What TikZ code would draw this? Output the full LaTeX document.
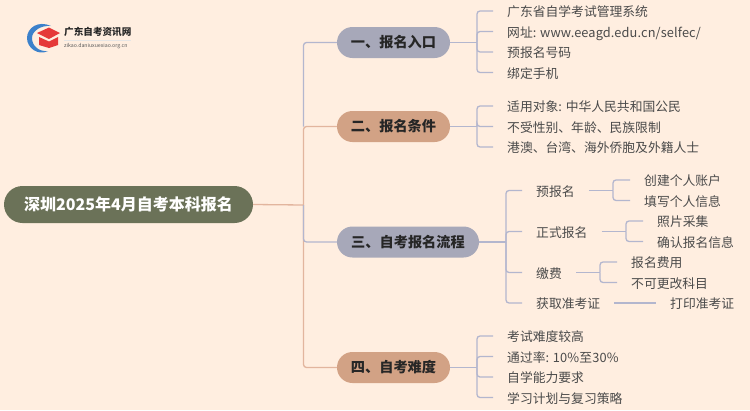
\documentclass[tikz,border=0pt]{standalone}
\usepackage{fontspec}
\setmainfont{Noto Sans CJK SC}
\definecolor{bg}{HTML}{FFEEE0}
\definecolor{rootc}{HTML}{6B7258}
\definecolor{bluec}{HTML}{A7A8B9}
\definecolor{orangec}{HTML}{D2A285}
\definecolor{lineb}{HTML}{B3B6CE}
\definecolor{lineo}{HTML}{E2B59E}
\definecolor{txt}{HTML}{4A4A4A}
\tikzset{
  x=1pt,y=-1pt,
  rootnode/.style={fill=rootc,text=white,rounded corners=18.5pt,minimum width=249pt,minimum height=37pt,inner sep=0pt,font=\fontsize{16}{18}\selectfont\bfseries},
  branch/.style={rounded corners=15.5pt,minimum height=31pt,inner sep=0pt,text=black!85,font=\fontsize{14.2}{16}\selectfont\bfseries},
  leaf/.style={anchor=west,inner xsep=14pt,inner ysep=0pt,text height=11.6pt,text depth=0pt,text=txt,font=\fontsize{12.8}{14}\selectfont},
  conb/.style={draw=lineb,line width=1.3pt,rounded corners=3pt},
  cono/.style={draw=lineo,line width=1.3pt,rounded corners=3pt},
}
\begin{document}
\begin{tikzpicture}
\useasboundingbox[fill=bg] (0,0) rectangle (750,410);
% logo
\fill[fill=white!30!cyan!60!blue] (51,26) .. controls (38,20) and (27,28) .. (27,38) .. controls (27,48) and (38,56) .. (48,51) .. controls (39,52) and (32,46) .. (32,38) .. controls (32,31) and (41,25) .. (51,26) -- cycle;
\fill[red!75!white!90!black] (37,33) -- (49,27.5) -- (60,33) -- (49,39) -- cycle;
\fill[red!75!white!90!black] (39,37) -- (49,41.5) -- (58,37) -- (58,45) -- (49,48) -- (39,45) -- cycle;
\node[anchor=west,inner sep=0pt,text=black!85,font=\fontsize{9.6}{11}\selectfont\bfseries] (logot) at (64,31.5) {广东自考资讯网};
\node[anchor=west,inner sep=0pt,text=black!65,font=\fontsize{5.2}{6}\selectfont] (logou) at (64,46) {zikao.daniuxuexiao.org.cn};
\draw[black!10,line width=0.5pt] (logot.west |- 0,40.5) -- (131,40.5);
% root and branches
\node[rootnode] (root) at (128.5,204.5) {深圳2025年4月自考本科报名};
\node[branch,fill=bluec,minimum width=113pt] (b1) at (393.5,42.5) {一、报名入口};
\node[branch,fill=orangec,minimum width=113pt] (b2) at (393.5,126.5) {二、报名条件};
\node[branch,fill=bluec,minimum width=142pt] (b3) at (408,242) {三、自考报名流程};
\node[branch,fill=orangec,minimum width=113pt] (b4) at (393.5,367.5) {四、自考难度};
\coordinate (t) at (303.5,205);
\coordinate (j1) at (477,42.5);
\coordinate (j2) at (477,126.5);
\coordinate (j3) at (506,242);
\coordinate (j4) at (477,367.5);
% leaves group 1
\node[leaf] (a1) at (493,11) {广东省自学考试管理系统};
\node[leaf] (a2) at (493,31.5) {网址: \addfontfeature{LetterSpace=0.9}www.eeagd.edu.cn/selfec/};
\node[leaf] (a3) at (493,52) {预报名号码};
\node[leaf] (a4) at (493,72.5) {绑定手机};
% group 2
\node[leaf] (c1) at (493,106) {适用对象: 中华人民共和国公民};
\node[leaf] (c2) at (493,126.5) {不受性别、年龄、民族限制};
\node[leaf] (c3) at (493,147) {港澳、台湾、海外侨胞及外籍人士};
% group 3
\node[leaf] (p1) at (522,190.5) {预报名};
\node[leaf] (p2) at (522,231.5) {正式报名};
\node[leaf] (p3) at (522,272.5) {缴费};
\node[leaf] (p4) at (522,303) {获取准考证};
\coordinate (k1) at (613,190.5);
\coordinate (k2) at (626,231.5);
\coordinate (k3) at (600,272.5);
\node[leaf] (q1) at (630,180) {创建个人账户};
\node[leaf] (q2) at (630,200.5) {填写个人信息};
\node[leaf] (q3) at (643,221) {照片采集};
\node[leaf] (q4) at (643,241.5) {确认报名信息};
\node[leaf] (q5) at (617,262) {报名费用};
\node[leaf] (q6) at (617,282.5) {不可更改科目};
\node[leaf] (q7) at (656,303) {打印准考证};
% group 4
\node[leaf] (d1) at (493,336) {考试难度较高};
\node[leaf] (d2) at (493,356.5) {通过率: \addfontfeature{LetterSpace=1}10\%至30\%};
\node[leaf] (d3) at (493,377) {自学能力要求};
\node[leaf] (d4) at (493,397.5) {学习计划与复习策略};
% connectors: trunk
\draw[cono] (root.east) -- (t);
\draw[cono] (t) |- (b4.west);
\draw[conb] (t) |- (b3.west);
\draw[cono] (t) |- (b2.west);
\draw[conb] (t |- b2.west) |- (b1.west);
% connectors: groups
\draw[conb] (b1.east) -- (j1);
\foreach \n in {a1,a2,a3,a4} \draw[conb] (j1) |- (\n.west);
\draw[conb] (b2.east) -- (j2);
\foreach \n in {c1,c2,c3} \draw[conb] (j2) |- (\n.west);
\draw[conb] (b3.east) -- (j3);
\foreach \n in {p1,p2,p3,p4} \draw[conb] (j3) |- (\n.west);
\draw[conb] (b4.east) -- (j4);
\foreach \n in {d1,d2,d3,d4} \draw[conb] (j4) |- (\n.west);
% sub-branches
\draw[conb] (p1.east) -- (k1);
\draw[conb] (k1) |- (q1.west);
\draw[conb] (k1) |- (q2.west);
\draw[conb] (p2.east) -- (k2);
\draw[conb] (k2) |- (q3.west);
\draw[conb] (k2) |- (q4.west);
\draw[conb] (p3.east) -- (k3);
\draw[conb] (k3) |- (q5.west);
\draw[conb] (k3) |- (q6.west);
\draw[conb] (p4.east) -- (q7.west);
\end{tikzpicture}
\end{document}
